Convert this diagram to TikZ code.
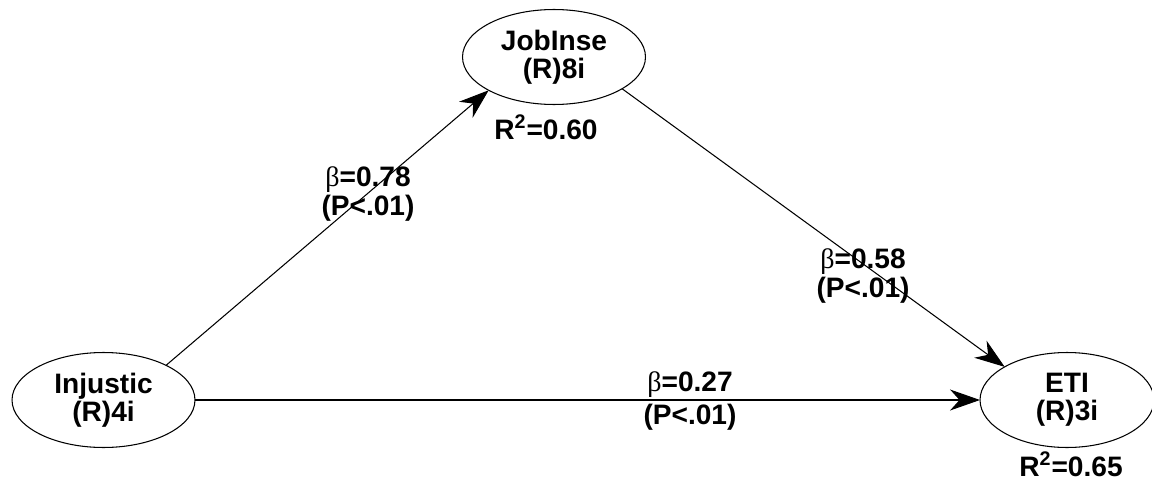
\documentclass[tikz,border=0pt]{standalone}
\usepackage{fontspec}
\setmainfont{Liberation Sans}
\newfontfamily\grkfont{Liberation Serif}
\usetikzlibrary{arrows.meta,positioning,shapes.geometric}
\newcommand{\bet}{{\grkfont\mdseries β}}

\begin{document}
\begin{tikzpicture}[
  x=0.02cm,y=-0.02cm,
  every node/.style={font=\fontsize{16}{16}\selectfont\bfseries},
  latent/.style={draw,ellipse,line width=0.6pt,inner sep=0pt,outer sep=0pt,
    minimum width=3.66cm,minimum height=1.9cm,align=center},
  path/.style={line width=0.6pt,-{Stealth[length=6mm,width=4.2mm,inset=1.9mm]}},
  coef/.style={align=center},
  rsq/.style={font=\fontsize{16}{16}\selectfont\bfseries}
]
  \useasboundingbox (0,0) rectangle (1152,483);
  % constructs
  \node[latent] (job) at (554,57) {JobInse\\(R)8i};
  \node[latent] (inj) at (103.5,400) {Injustic\\(R)4i};
  \node[latent,minimum width=3.48cm] (eti) at (1067,400) {ETI\\(R)3i};
  % paths
  \draw[path] (inj.29) -- (job.207);
  \draw[path] (job.335) -- (eti.152);
  \draw[path] (inj.east) -- (eti.west);
  % coefficients
  \node[coef] (b1) at (368,194) {\bet=0.78\\(P<.01)};
  \node[coef] (b2) at (863,276) {\bet=0.58\\(P<.01)};
  \node[coef,font=\fontsize{16}{19}\selectfont\bfseries] (b3) at (690,401) {\bet=0.27\\(P<.01)};
  \node[rsq] (r1) at (546,127) {R\textsuperscript{2}=0.60};
  \node[rsq] (r2) at (1071,464) {R\textsuperscript{2}=0.65};
\end{tikzpicture}
\end{document}
